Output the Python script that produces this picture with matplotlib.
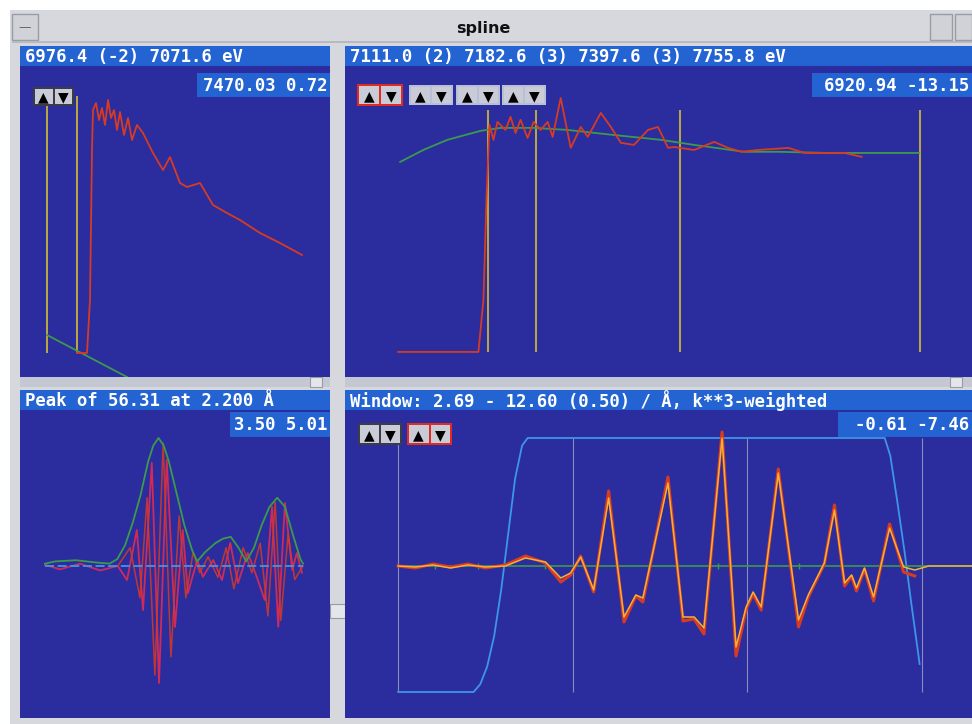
import numpy as np
import matplotlib
matplotlib.use("Agg")
import matplotlib.pyplot as plt
from matplotlib.patches import Rectangle

# ---------------- data ----------------
# top-left: raw mu(E) with pre-edge line
pre_edge_range = [6976.4, 7071.6]
raw_energy = [7071.6, 7103.3, 7112.8, 7119.2, 7122.4, 7131.9, 7141.4, 7150.9, 7160.4,
              7170.0, 7179.5, 7189.0, 7198.5, 7208.0, 7220.7, 7233.4, 7246.1, 7262.0,
              7281.0, 7312.7, 7344.5, 7366.7, 7398.4, 7420.6, 7461.9, 7471.4, 7503.1,
              7547.5, 7588.8, 7652.3, 7715.8, 7785.6]
raw_mu = [0.0, 0.0, 0.212, 0.812, 0.972, 1.0, 0.932, 0.98, 0.912, 1.012, 0.94, 0.972,
          0.892, 0.964, 0.872, 0.94, 0.852, 0.912, 0.88, 0.8, 0.732, 0.784, 0.68, 0.664,
          0.68, 0.66, 0.592, 0.56, 0.532, 0.48, 0.44, 0.392]
pre_fit_energy = [6976.4, 7230.2]
pre_fit_mu = [0.072, -0.096]

# top-right: normalised mu(E) and spline background
knot_energy = [7111.0, 7182.6, 7397.6, 7755.8]
norm_energy = [6976.0, 7096.0, 7103.5, 7108.0, 7112.5, 7118.5, 7124.5, 7136.5, 7144.0,
               7151.5, 7159.0, 7169.5, 7178.5, 7189.0, 7199.5, 7207.0, 7219.0, 7234.0,
               7249.0, 7259.5, 7279.0, 7294.0, 7309.0, 7328.5, 7349.5, 7364.5, 7379.5,
               7388.5, 7418.5, 7448.5, 7469.5, 7489.0, 7514.5, 7559.5, 7583.5, 7609.0,
               7643.5, 7669.0]
norm_mu = [0.0, 0.0, 0.226, 0.661, 0.987, 0.922, 1.0, 0.965, 1.022, 0.952, 1.009, 0.930,
           1.0, 0.965, 1.0, 0.935, 1.104, 0.887, 0.978, 0.935, 1.039, 0.978, 0.909, 0.9,
           0.965, 0.978, 0.887, 0.891, 0.878, 0.913, 0.887, 0.870, 0.878, 0.887, 0.865,
           0.865, 0.865, 0.848]
spline_energy = [6979.0, 7013.5, 7049.5, 7099.0, 7129.0, 7178.5, 7229.5, 7298.5, 7369.0,
                 7418.5, 7493.5, 7544.5, 7619.5, 7754.5]
spline_mu = [0.826, 0.878, 0.922, 0.961, 0.974, 0.974, 0.965, 0.943, 0.922, 0.9, 0.870,
             0.870, 0.865, 0.865]

# bottom-left: Fourier transform |chi(R)|, Re and Im
ft_r = [0.0, 0.2, 0.6, 1.0, 1.25, 1.4, 1.55, 1.7, 1.85, 2.0, 2.1, 2.2, 2.3, 2.4, 2.55,
        2.7, 2.85, 2.95, 3.1, 3.3, 3.45, 3.6, 3.75, 3.9, 4.05, 4.2, 4.35, 4.5, 4.65,
        4.8, 4.95, 5.0]
ft_mag = [1.0, 2.0, 2.5, 1.5, 1.0, 3.0, 9.0, 19.0, 31.0, 46.0, 53.0, 56.3, 53.0, 46.0,
          32.0, 18.0, 7.0, 2.0, 6.0, 10.0, 12.0, 12.8, 8.0, 2.0, 8.0, 18.0, 26.0, 30.0,
          26.0, 14.0, 3.0, 1.0]
re_r = [0.0, 0.29, 0.68, 1.07, 1.41, 1.59, 1.78, 1.90, 2.07, 2.21, 2.36, 2.52, 2.67,
        2.77, 2.95, 3.06, 3.26, 3.43, 3.59, 3.74, 3.93, 4.09, 4.26, 4.40, 4.52, 4.65,
        4.79, 4.88, 4.98]
ft_re = [0.5, -1.5, 1.0, -2.0, 0.0, -6.2, 15.8, -19.4, 45.3, -51.5, 46.6, -26.8, 15.8,
         -11.9, 2.6, -4.8, 2.6, -6.2, 10.1, -7.5, 5.7, -4.0, -15.0, 26.0, -26.8, 27.7,
         -1.8, 5.7, -3.0]
im_r = [1.41, 1.65, 1.84, 1.98, 2.13, 2.29, 2.44, 2.60, 2.73, 2.87, 3.00, 3.16, 3.35,
        3.51, 3.66, 3.84, 4.01, 4.17, 4.32, 4.46, 4.57, 4.71, 4.84, 5.00]
ft_im = [0, 8, -14, 30, -48, 54, -40, 22, -14, 6, -3, 4, -5, 8, -10, 8, -3, 10, -22,
         28, -24, 14, -6, 0]
ft_axis = [0.0, 5.0]

# bottom-right: k^3 chi(k), window
k_grid = [0, 5, 10, 15]
chi_k = [0, 0.5, 1.0, 1.5, 2.0, 2.5, 3.07, 3.65, 4.22, 4.66, 4.94, 5.23, 5.60, 6.03,
         6.47, 6.81, 7.01, 7.73, 8.16, 8.48, 8.76, 9.28, 9.68, 9.97, 10.17, 10.40,
         10.89, 11.47, 11.75, 12.21, 12.50, 12.79, 12.99, 13.13, 13.36, 13.62, 14.08,
         14.48, 14.80, 15.2, 16.44]
chi_fit = [0, -0.1, 0.1, -0.2, 0.1, -0.1, 0, 0.8, 0.4, -1.2, -0.7, 0.9, -2.4, 6.8,
           -5.1, -2.9, -3.2, 8.3, -5.1, -5.1, -6.2, 12.8, -8.1, -4.1, -2.6, -4.1, 9.3,
           -5.4, -2.9, 0.3, 5.6, -1.7, -0.9, -2.2, -0.2, -3.1, 3.8, -0.1, -0.4, 0.0, 0.0]
chi_data = [0, -0.2, 0.2, -0.1, 0.2, -0.2, 0.1, 1.0, 0.3, -1.6, -0.9, 1.0, -2.6, 7.5,
            -5.6, -3.0, -3.6, 8.9, -5.5, -5.3, -6.8, 13.4, -9.0, -4.3, -2.8, -4.4, 9.7,
            -6.1, -3.1, 0.2, 6.1, -2.0, -1.0, -2.5, -0.3, -3.5, 4.2, -0.6, -1.0]
knot_k = [1.06, 2.30, 4.22, 8.0, 9.17, 11.47, 12.7]
win_k = [0, 2.16, 2.35, 2.55, 2.75, 2.95, 3.15, 3.35, 3.55, 3.71, 13.94, 14.10, 14.30,
         14.51, 14.70, 14.94]
win_val = [0, 0, 0.03, 0.10, 0.22, 0.40, 0.62, 0.84, 0.97, 1.0, 1.0, 0.93, 0.75,
           0.55, 0.35, 0.11]

title = "spline"
headers = ["6976.4 (-2) 7071.6 eV",
           "7111.0 (2) 7182.6 (3) 7397.6 (3) 7755.8 eV",
           "Peak of 56.31 at 2.200 \u00c5",
           "Window: 2.69 - 12.60 (0.50) / \u00c5, k**3-weighted"]
readouts = ["7470.03 0.72", "6920.94 -13.15", "3.50 5.01", "-0.61 -7.46"]

# ---------------- colours ----------------
GRAY = "#d6d8de"
DARK = "#2b2d9e"
HEAD = "#2363d2"
YEL = "#c8b43c"
RED = "#d83a22"
GREEN = "#3c9a4c"
ORANGE = "#f0b23a"
LBLUE = "#3d96e6"
MAG = "#d02a5a"
BTN = "#c9ccd6"

W, H = 972, 724
fig = plt.figure(figsize=(W / 100, H / 100), dpi=100)
fig.patch.set_facecolor("white")


def box(x0, y0, x1, y1, color, ec="none", lw=0, z=-5):
    fig.patches.append(Rectangle((x0 / W, 1 - y1 / H), (x1 - x0) / W, (y1 - y0) / H,
                                 transform=fig.transFigure, facecolor=color,
                                 edgecolor=ec, linewidth=lw, zorder=z))


def ftext(x, y, s, **kw):
    fig.text(x / W, 1 - y / H, s, zorder=6, **kw)


def panel(x0, y0, x1, y1):
    ax = fig.add_axes([x0 / W, 1 - y1 / H, (x1 - x0) / W, (y1 - y0) / H])
    ax.set_facecolor(DARK)
    ax.set_xticks([])
    ax.set_yticks([])
    for sp in ax.spines.values():
        sp.set_visible(False)
    return ax


def buttons(x, y, w, h, border):
    box(x, y, x + w, y + h, border, z=3)
    half = (w - 6) / 2
    box(x + 2, y + 2, x + 2 + half, y + h - 2, BTN, z=4)
    box(x + 4 + half, y + 2, x + w - 2, y + h - 2, BTN, z=4)
    ftext(x + 2 + half / 2, y + h / 2 + 1, "\u25b2", ha="center", va="center",
          fontsize=10, color="black")
    ftext(x + 4 + 1.5 * half, y + h / 2 + 1, "\u25bc", ha="center", va="center",
          fontsize=10, color="black")


# window chrome
box(10, 10, W, H, GRAY, z=-10)
box(12, 14, 38, 40, "#d0d2d8", ec="#9a9ca4", lw=1, z=-9)
ftext(25, 28, "\u2014", ha="center", va="center", fontsize=9, color="#666")
box(12, 41, W, 43, "#b8bac2", z=-9)
box(930, 14, 952, 40, "#d0d2d8", ec="#9a9ca4", lw=1, z=-9)
box(955, 14, 972, 40, "#d0d2d8", ec="#9a9ca4", lw=1, z=-9)
ftext(483, 29, title, ha="center", va="center", fontsize=11.5, fontweight="bold",
      color="#111")

mono = dict(family="DejaVu Sans Mono", fontweight="bold", fontsize=12.4, color="white")

# panel frames (header + readout)
frames = [(20, 46, 330, 66), (345, 46, W, 66), (20, 390, 330, 410), (345, 390, W, 410)]
read_boxes = [(197, 73, 330, 97), (812, 73, W, 97), (230, 412, 330, 437),
              (838, 412, W, 437)]
for (x0, y0, x1, y1), s in zip(frames, headers):
    box(x0, y0, x1, y1, HEAD, z=2)
    ftext(x0 + 5, (y0 + y1) / 2 + 1, s, ha="left", va="center", **mono)
for (x0, y0, x1, y1), s in zip(read_boxes, readouts):
    box(x0, y0, x1, y1, HEAD, z=2)
    ftext(x1 - 3, (y0 + y1) / 2 + 1, s, ha="right", va="center", **mono)

# scrollbars and splitter handles
box(20, 377, 330, 387, "#c4c8d2", z=-4)
box(345, 377, W, 387, "#c4c8d2", z=-4)
box(310, 377, 322, 387, "#e4e6ea", ec="#9a9ca4", lw=0.8, z=-3)
box(950, 377, 962, 387, "#e4e6ea", ec="#9a9ca4", lw=0.8, z=-3)
box(330, 604, 345, 618, "#e4e6ea", ec="#9a9ca4", lw=0.8, z=-3)

# ---- top-left ----
ax1 = panel(20, 66, 330, 377)
ax1.set_xlim(6890.7, 7874.4)
ax1.set_ylim(-0.096, 1.148)
ax1.vlines(pre_edge_range, 0, 1.03, color=YEL, lw=1.3)
ax1.plot(pre_fit_energy, pre_fit_mu, color=GREEN, lw=1.3)
ax1.plot(raw_energy, raw_mu, color=RED, lw=1.3)
buttons(33, 87, 41, 19, "#3a3c48")

# ---- top-right ----
ax2 = panel(345, 66, W, 377)
ax2.set_xlim(6896.5, 7834.0)
ax2.set_ylim(-0.109, 1.243)
ax2.vlines(knot_energy, 0, 1.052, color=YEL, lw=1.3)
ax2.plot(spline_energy, spline_mu, color=GREEN, lw=1.3)
ax2.plot(norm_energy, norm_mu, color=RED, lw=1.3)
buttons(357, 84, 46, 22, "#e02a22")
for bx in (409, 456, 502):
    buttons(bx, 85, 44, 20, "#b8c0d8")

# ---- bottom-left ----
ax3 = panel(20, 410, 330, 718)
ax3.set_xlim(-0.484, 5.523)
ax3.set_ylim(-66.9, 68.6)
ax3.plot(re_r, ft_re, color=MAG, lw=1.3)
ax3.plot(im_r, ft_im, color=RED, lw=1.1, alpha=0.85)
ax3.plot(ft_r, ft_mag, color=GREEN, lw=1.3)
ax3.plot(ft_axis, [0, 0], color=LBLUE, lw=1.3, ls=(0, (5, 2)))

# ---- bottom-right ----
ax4 = panel(345, 410, W, 718)
ax4.set_xlim(-1.523, 16.44)
ax4.set_ylim(-15.2, 15.6)
ax4.vlines(k_grid, -12.6, 12.8, color="#8a8cb8", lw=0.8)
ax4.plot(win_k, np.array(win_val) * 25.4 - 12.6, color=LBLUE, lw=1.3)
ax4.plot([0, chi_k[-1]], [0, 0], color=GREEN, lw=1.2)
ax4.plot(knot_k, np.zeros(len(knot_k)), "|", color=GREEN, ms=5)
ax4.plot(chi_k[:len(chi_data)], chi_data, color=RED, lw=2.2)
ax4.plot(chi_k, chi_fit, color=ORANGE, lw=1.1)
buttons(358, 423, 44, 22, "#3a3c48")
buttons(407, 423, 45, 22, "#e02a22")

fig.savefig("out.png", dpi=100, facecolor=fig.get_facecolor())
